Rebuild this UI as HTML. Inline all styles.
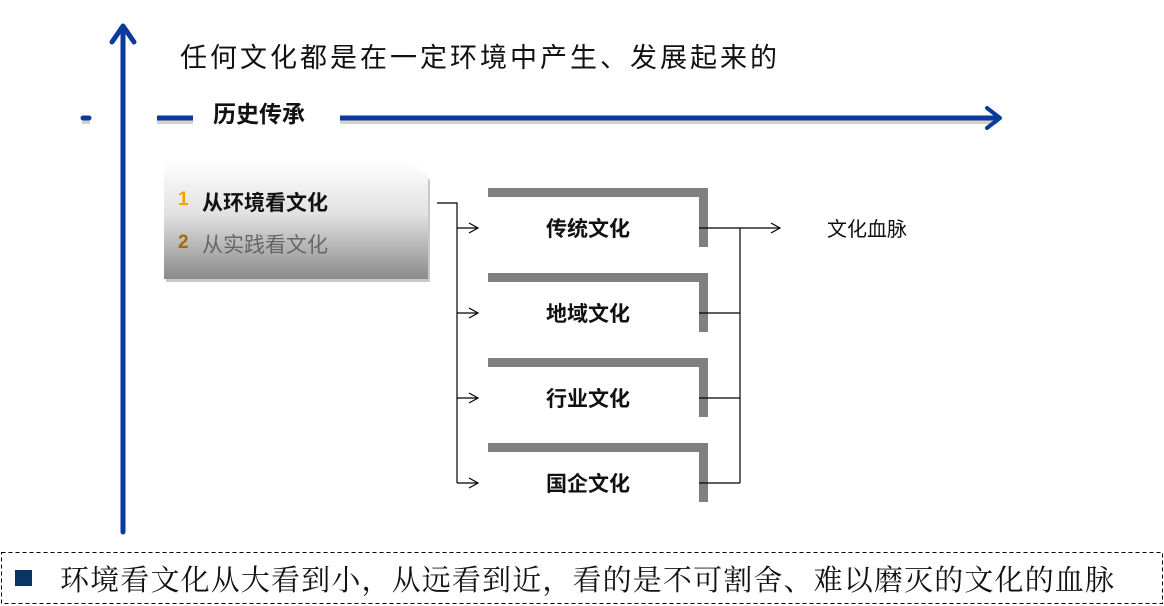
<!DOCTYPE html>
<html><head><meta charset="utf-8"><style>
html,body{margin:0;padding:0;background:#fff;width:1164px;height:606px;overflow:hidden}
text{font-family:"Liberation Sans","Noto Sans CJK SC",sans-serif}
</style></head><body>
<svg width="1164" height="606" viewBox="0 0 1164 606" xmlns="http://www.w3.org/2000/svg">
<defs>
<linearGradient id="g" x1="0" y1="0" x2="0" y2="1">
<stop offset="0" stop-color="#ffffff"/><stop offset="0.45" stop-color="#e2e2e2"/><stop offset="1" stop-color="#8a8a8a"/>
</linearGradient>
<marker id="a" markerWidth="12" markerHeight="12" refX="10" refY="6" orient="auto" markerUnits="userSpaceOnUse">
<path d="M1,1 L10,6 L1,11" fill="none" stroke="#000" stroke-width="1.2"/></marker>
</defs>
<line x1="123" y1="532" x2="123" y2="28" stroke="#0a3a9a" stroke-width="5" stroke-linecap="round"/>
<path d="M112,42 L123,26 L134,42" fill="none" stroke="#0a3a9a" stroke-width="5" stroke-linecap="round" stroke-linejoin="round"/>
<text x="180" y="67" font-size="27" textLength="597" fill="#111">任何文化都是在一定环境中产生、发展起来的</text>
<rect x="82" y="120" width="8" height="4" fill="#d4d0cc"/>
<rect x="157" y="120" width="36" height="4" fill="#d4d0cc"/>
<rect x="340" y="120" width="658" height="4" fill="#d4d0cc"/>
<line x1="83" y1="118" x2="89" y2="118" stroke="#0a3a9a" stroke-width="5" stroke-linecap="round"/>
<line x1="157" y1="118" x2="193" y2="118" stroke="#0a3a9a" stroke-width="5"/>
<line x1="340" y1="118" x2="998" y2="118" stroke="#0a3a9a" stroke-width="5"/>
<path d="M987,108 L1000,118 L987,128" fill="none" stroke="#0a3a9a" stroke-width="4" stroke-linecap="round" stroke-linejoin="round"/>
<text x="213" y="122" font-size="23" font-weight="bold" fill="#111">历史传承</text>
<path d="M166,164 L412,164 L430,180 L430,282 L166,282 Z" fill="#c8c8c8"/>
<path d="M164,160 L410,160 L428,176 L428,279 L164,279 Z" fill="url(#g)"/>
<text x="178" y="205" font-size="19" font-weight="bold" fill="#f5a000">1</text>
<text x="202" y="210" font-size="21" font-weight="bold" fill="#111">从环境看文化</text>
<text x="178" y="248" font-size="19" font-weight="bold" fill="#a86800">2</text>
<text x="202" y="252" font-size="21" fill="#666">从实践看文化</text>
<polyline points="437,203 457,203 457,483" fill="none" stroke="#000" stroke-width="1.2"/>
<g stroke="#000" stroke-width="1.2" marker-end="url(#a)">
<line x1="457" y1="228" x2="478" y2="228"/><line x1="457" y1="313" x2="478" y2="313"/>
<line x1="457" y1="398" x2="478" y2="398"/><line x1="457" y1="483" x2="478" y2="483"/>
</g>
<g fill="#808080">
<rect x="488" y="188" width="220" height="9"/><rect x="699" y="188" width="9" height="59"/>
<rect x="488" y="273" width="220" height="9"/><rect x="699" y="273" width="9" height="59"/>
<rect x="488" y="358" width="220" height="9"/><rect x="699" y="358" width="9" height="59"/>
<rect x="488" y="443" width="220" height="9"/><rect x="699" y="443" width="9" height="59"/>
</g>
<g font-size="21" font-weight="bold" fill="#111" text-anchor="middle">
<text x="588" y="236">传统文化</text><text x="588" y="321">地域文化</text>
<text x="588" y="406">行业文化</text><text x="588" y="491">国企文化</text>
</g>
<g stroke="#000" stroke-width="1.2" fill="none">
<line x1="699" y1="228" x2="740" y2="228"/><line x1="699" y1="313" x2="740" y2="313"/>
<line x1="699" y1="398" x2="740" y2="398"/><line x1="699" y1="483" x2="740" y2="483"/>
<line x1="740" y1="228" x2="740" y2="483"/>
<line x1="740" y1="228" x2="780" y2="228" marker-end="url(#a)"/>
</g>
<text x="827" y="236" font-size="20" fill="#111">文化血脉</text>
<rect x="1.5" y="552.5" width="1161" height="51" fill="none" stroke="#000" stroke-width="1" stroke-dasharray="4,3"/>
<rect x="15" y="570" width="17" height="16" fill="#0a3366"/>
<text x="60" y="590" font-size="29" textLength="1054" fill="#111" style="font-family:'Liberation Serif','Noto Serif CJK SC',serif">环境看文化从大看到小，从远看到近，看的是不可割舍、难以磨灭的文化的血脉</text>
</svg>
</body></html>
